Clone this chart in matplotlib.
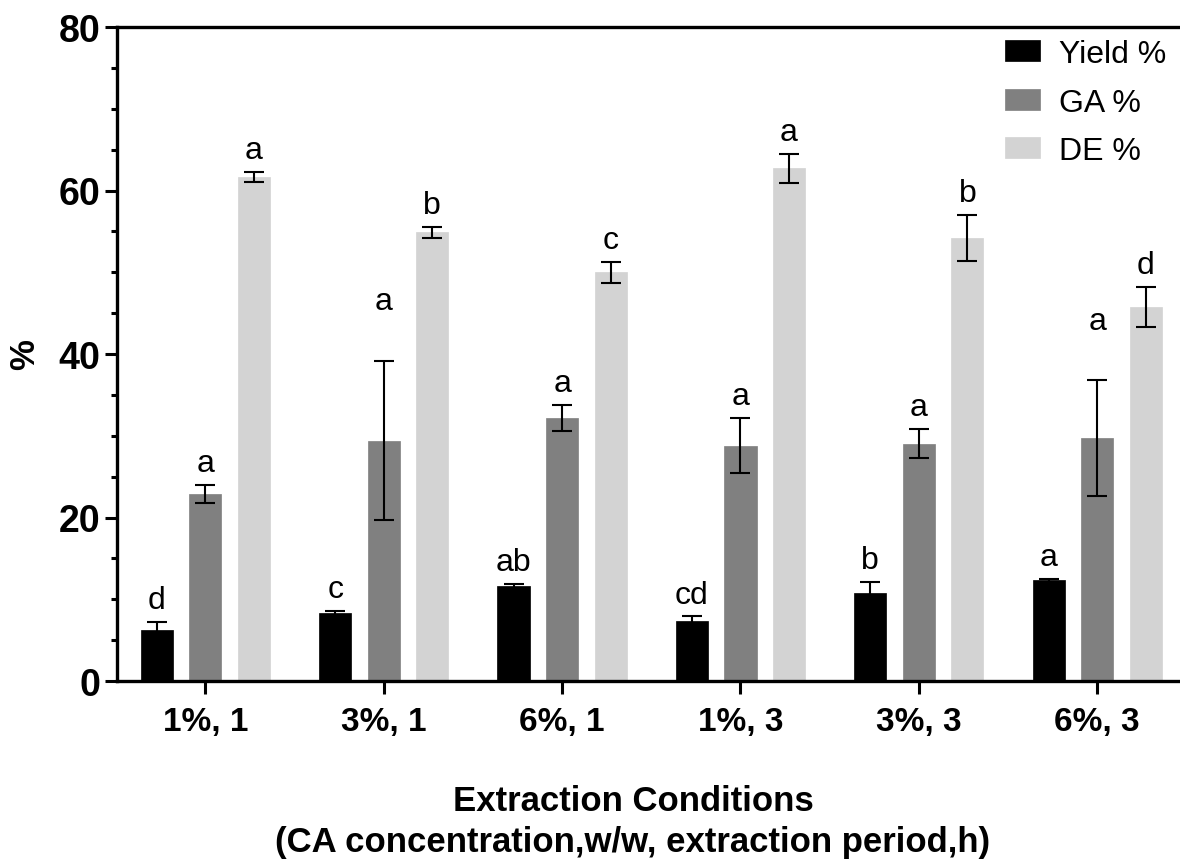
import numpy as np
import matplotlib
matplotlib.use("Agg")
import matplotlib.pyplot as plt

plt.rcParams['font.family'] = ['Liberation Sans', 'DejaVu Sans']

conditions = ["1%, 1", "3%, 1", "6%, 1", "1%, 3", "3%, 3", "6%, 3"]
series_names = ["Yield %", "GA %", "DE %"]

yield_mean = [6.2, 8.3, 11.6, 7.4, 10.8, 12.3]
yield_err = [1.0, 0.25, 0.25, 0.5, 1.3, 0.15]
ga_mean = [22.9, 29.4, 32.2, 28.8, 29.05, 29.7]
ga_err = [1.1, 9.7, 1.6, 3.4, 1.8, 7.1]
de_mean = [61.7, 54.9, 50.0, 62.7, 54.2, 45.75]
de_err = [0.6, 0.65, 1.3, 1.75, 2.8, 2.5]

yield_letters = ["d", "c", "ab", "cd", "b", "a"]
ga_letters = ["a", "a", "a", "a", "a", "a"]
de_letters = ["a", "b", "c", "a", "b", "d"]


def main():
    fig = plt.figure(figsize=(11.8, 8.62), dpi=100)
    ax = fig.add_axes([117 / 1180, 1 - 682 / 862, 1 - 117 / 1180, (682 - 28) / 862])

    x = np.arange(len(conditions))
    width = 0.18
    step = 0.272
    colors = ["#000000", "#808080", "#d3d3d3"]
    means = [yield_mean, ga_mean, de_mean]
    errs = [yield_err, ga_err, de_err]
    letters = [yield_letters, ga_letters, de_letters]
    # a couple of letters sit higher than the rest in the original
    extra_lift = {(1, 1): 28, (1, 5): 27}

    for s in range(3):
        pos = x + (s - 1) * step
        ax.bar(pos, means[s], width, color=colors[s], label=series_names[s],
               edgecolor=colors[s], linewidth=0.5, zorder=2)
        ax.errorbar(pos, means[s], yerr=errs[s], fmt='none', ecolor='black',
                    elinewidth=1.5, capsize=7.5, capthick=1.5, zorder=3)
        for i in range(len(conditions)):
            lift = 10 + extra_lift.get((s, i), 0)
            ax.annotate(letters[s][i], (pos[i], means[s][i] + errs[s][i]),
                        xytext=(0, lift), textcoords='offset points',
                        ha='center', va='baseline', fontsize=23)

    ax.set_xlim(-0.495, 5.464)
    ax.set_ylim(0, 80)
    ax.set_yticks([0, 20, 40, 60, 80])
    ax.set_yticks(np.arange(0, 80, 5), minor=True)
    ax.set_xticks(x)
    ax.set_xticklabels(conditions)

    for side in ['left', 'bottom', 'top']:
        ax.spines[side].set_linewidth(2.4)
    ax.spines['right'].set_visible(False)
    ax.tick_params(axis='both', which='major', length=9, width=2.2,
                   direction='out')
    ax.tick_params(axis='x', pad=9, labelsize=24)
    ax.tick_params(axis='y', labelsize=27, pad=3)
    ax.tick_params(axis='y', which='minor', length=4.5, width=2.2)
    for lab in ax.get_xticklabels() + ax.get_yticklabels():
        lab.set_fontweight('bold')

    fig.text(25 / 1180, 1 - 355 / 862, "%", rotation=90, ha='center',
             va='center', fontsize=25, fontweight='bold')
    fig.text(633 / 1180, 1 - 822 / 862,
             "Extraction Conditions\n(CA concentration,w/w, extraction period,h)",
             ha='center', va='center', fontsize=25, fontweight='bold',
             linespacing=1.3)

    ax.legend(loc='upper left', bbox_to_anchor=(1005 / 1180, 1 - 40 / 862),
              bbox_transform=fig.transFigure, frameon=False, fontsize=23,
              handlelength=1.1, handleheight=0.62, handletextpad=0.6,
              labelspacing=0.58, borderpad=0, borderaxespad=0)

    fig.savefig("out.png", dpi=100)


if __name__ == "__main__":
    main()
